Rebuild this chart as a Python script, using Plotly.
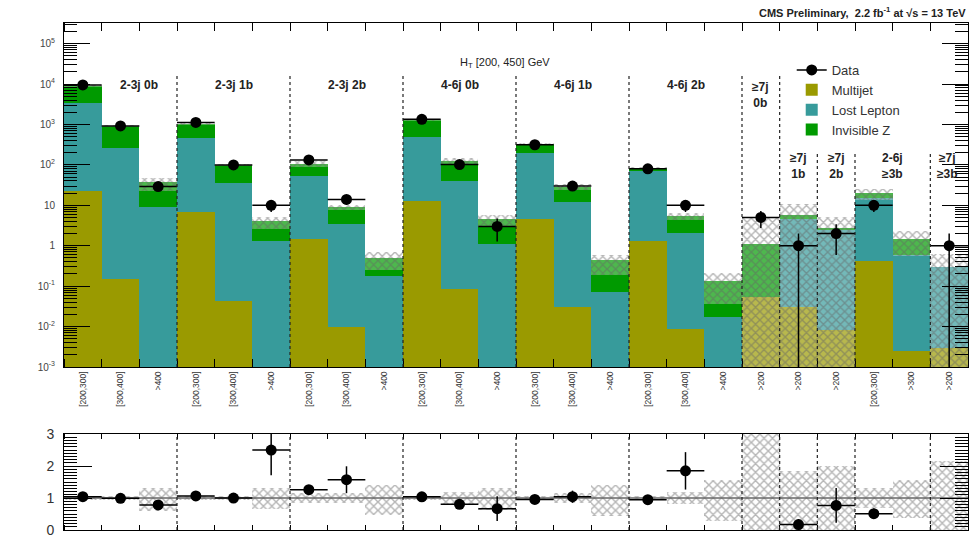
import numpy as np
import plotly.graph_objects as go

# ---------------- data ----------------
bin_labels = ["[200,300]", "[300,400]", ">400"] * 6 + [">200", ">200", ">200", "[200,300]", ">300", ">200"]
group_names = ["2-3j 0b", "2-3j 1b", "2-3j 2b", "4-6j 0b", "4-6j 1b", "4-6j 2b",
               "≥7j<br>0b", "≥7j<br>1b", "≥7j<br>2b", "2-6j<br>≥3b", "≥7j<br>≥3b"]
group_sizes = [3, 3, 3, 3, 3, 3, 1, 1, 1, 2, 1]

multijet = [23, 0.15, 0, 6.7, 0.044, 0, 1.5, 0.0095, 0, 13, 0.085, 0,
            4.6, 0.030, 0, 1.3, 0.0087, 0, 0.055, 0.03, 0.008, 0.41, 0.0025, 0.0029]
lost_lepton = [3300, 255, 9.3, 445, 35, 1.3, 52, 3.4, 0.18, 467, 41, 1.1,
               187, 11.8, 0.073, 71, 2.1, 0.017, 0, 4.6, 2.5, 14.6, 0.6, 0.29]
invisible_z = [5800, 675, 27.7, 600, 65, 2.7, 52, 5.5, 0.33, 810, 86, 3.4,
               138, 17, 0.36, 12, 3.3, 0.118, 1.05, 1.2, 0.1, 4.6, 0.87, 0.0]
data = [9500, 920, 29, 1120, 100, 10, 133, 14, None, 1340, 102, 3,
        315, 30, None, 80, 10, None, 5, 1, 2, 10, None, 1]
unc_up = [0.05, 0.05, 0.30, 0.06, 0.06, 0.30, 0.15, 0.15, 0.40, 0.06, 0.18, 0.30,
          0.06, 0.15, 0.40, 0.06, 0.20, 0.57, 3.5, 0.85, 1.0, 0.30, 0.55, 1.15]
unc_dn = [0.05, 0.05, 0.40, 0.06, 0.06, 0.35, 0.15, 0.15, 0.52, 0.06, 0.18, 0.36,
          0.06, 0.15, 0.57, 0.06, 0.20, 0.73, 1.0, 1.0, 1.0, 0.30, 0.62, 1.0]
y_tick_vals = [1e-3, 1e-2, 1e-1, 1, 10, 1e2, 1e3, 1e4, 1e5]
y_tick_text = ["10<sup>-3</sup>", "10<sup>-2</sup>", "10<sup>-1</sup>", "1", "10",
               "10<sup>2</sup>", "10<sup>3</sup>", "10<sup>4</sup>", "10<sup>5</sup>"]

# ---------------- styles ----------------
C_MJ = "#9a9a00"
C_LL = "#379b9b"
C_IZ = "#009a00"
HATCH = dict(shape="x", fgcolor="rgba(100,100,100,0.95)", bgcolor="rgba(255,255,255,0.3)",
             size=6, solidity=0.42, fillmode="overlay")
FONT = "Liberation Sans, Arial, sans-serif"

n = len(bin_labels)
xc = np.arange(n) + 0.5
mj = np.array(multijet, float)
ll = np.array(lost_lepton, float)
iz = np.array(invisible_z, float)
pred = mj + ll + iz
up = np.array(unc_up)
dn = np.array(unc_dn)
d = np.array([np.nan if v is None else v for v in data], float)
TINY = 1e-7

fig = go.Figure()

# stacked backgrounds (main panel)
fig.add_trace(go.Bar(x=xc, y=np.where(mj > 0, mj, np.nan), width=1, name="Multijet",
                     marker=dict(color=C_MJ, line=dict(width=0)), legendrank=2,
                     xaxis="x", yaxis="y"))
fig.add_trace(go.Bar(x=xc, y=np.where(ll > 0, ll, np.nan), base=np.maximum(mj, TINY), width=1,
                     name="Lost Lepton", marker=dict(color=C_LL, line=dict(width=0)),
                     legendrank=3, xaxis="x", yaxis="y"))
fig.add_trace(go.Bar(x=xc, y=np.where(iz > 0, iz, np.nan), base=np.maximum(mj + ll, TINY), width=1,
                     name="Invisible Z", marker=dict(color=C_IZ, line=dict(width=0)),
                     legendrank=4, xaxis="x", yaxis="y"))
# uncertainty band (main)
lo = np.maximum(pred * (1 - dn), TINY)
hi = pred * (1 + up)
fig.add_trace(go.Bar(x=xc, y=hi - lo, base=lo, width=1, showlegend=False,
                     marker=dict(color="rgba(0,0,0,0)", line=dict(width=0), pattern=HATCH),
                     xaxis="x", yaxis="y"))

# data (main)
err = np.sqrt(d)
err_lo = np.where(d - err > 0, err, d)
fig.add_trace(go.Scatter(x=xc, y=d, mode="markers", showlegend=False,
                         marker=dict(color="black", size=11),
                         error_x=dict(type="data", array=[0.5] * n, color="black", thickness=1.5, width=0),
                         error_y=dict(type="data", array=err, arrayminus=err_lo, color="black",
                                      thickness=1.5, width=0),
                         xaxis="x", yaxis="y"))
fig.add_trace(go.Scatter(x=[None], y=[None], mode="lines+markers", name="Data",
                         marker=dict(color="black", size=11), line=dict(color="black", width=1.5),
                         legendrank=1, xaxis="x", yaxis="y"))

# ratio panel
fig.add_trace(go.Bar(x=xc, y=up + dn, base=1 - dn, width=1, showlegend=False,
                     marker=dict(color="rgba(0,0,0,0)", line=dict(width=0), pattern=HATCH),
                     xaxis="x2", yaxis="y2"))
fig.add_trace(go.Scatter(x=[0, n], y=[1, 1], mode="lines", showlegend=False,
                         line=dict(color="#666", width=1.5), xaxis="x2", yaxis="y2"))
ratio = d / pred
in_range = ratio <= 3
fig.add_trace(go.Scatter(x=xc, y=np.where(in_range, ratio, np.nan), mode="markers", showlegend=False,
                         marker=dict(color="black", size=11),
                         error_x=dict(type="data", array=[0.5] * n, color="black", thickness=1.5, width=0),
                         error_y=dict(type="data", array=np.where(in_range, err / pred, np.nan),
                                      color="black", thickness=1.5, width=0),
                         xaxis="x2", yaxis="y2"))

# group separators and labels
bounds = np.cumsum(group_sizes)
starts = bounds - np.array(group_sizes)
sep_top = [4.2] * 7 + [2.33] * 3
for b, t in zip(bounds[:-1], sep_top):
    fig.add_shape(type="line", x0=b, x1=b, y0=1e-3, y1=10 ** t, xref="x", yref="y",
                  line=dict(color="#222", width=1.2, dash="dot"))
    fig.add_shape(type="line", x0=b, x1=b, y0=0, y1=3, xref="x2", yref="y2",
                  line=dict(color="#222", width=1.2, dash="dot"))

label_y = [3.98] * 6 + [3.74] + [1.98] * 4
label_dx = [0.5] + [0] * 9 + [-0.05]
for name, s, sz, ly, dx in zip(group_names, starts, group_sizes, label_y, label_dx):
    fig.add_annotation(x=s + sz / 2 + dx, y=ly, xref="x", yref="y", text="<b>%s</b>" % name,
                       showarrow=False, font=dict(size=12, color="#222", family=FONT))

fig.add_annotation(x=11.7, y=4.53, xref="x", yref="y", text="H<sub>T</sub> [200, 450] GeV",
                   showarrow=False, font=dict(size=11, color="#222", family=FONT))
fig.add_annotation(x=1, y=1, xref="paper", yref="paper", xanchor="right", yanchor="bottom",
                   yshift=2, text="<b>CMS Preliminary,  2.2 fb<sup>-1</sup> at √s = 13 TeV</b>",
                   showarrow=False, font=dict(size=11, color="#222", family=FONT))

axis_common = dict(showline=True, linecolor="black", linewidth=1, mirror="ticks", showgrid=False,
                   zeroline=False)

fig.update_layout(
    width=971, height=540,
    margin=dict(l=64, r=3, t=23, b=10),
    paper_bgcolor="white", plot_bgcolor="white",
    barmode="overlay", bargap=0,
    font=dict(family=FONT, color="#222"),
    xaxis=dict(domain=[0, 1], anchor="y", range=[0, n], tickmode="array", tickvals=list(xc),
               ticktext=bin_labels, tickangle=-90, ticks="", tickfont=dict(size=8.5, color="#333"),
               minor=dict(ticks="inside", ticklen=8, tick0=0, dtick=1, tickcolor="black", showgrid=False),
               **axis_common),
    yaxis=dict(domain=[0.3215, 1], anchor="x", type="log", range=[-3, 5.51], tickmode="array",
               tickvals=y_tick_vals, ticktext=y_tick_text, ticks="inside", ticklen=26,
               tickcolor="black", tickfont=dict(size=10, color="#444"), ticklabelstandoff=6,
               minor=dict(ticks="inside", ticklen=13, dtick="D1", tickcolor="black", showgrid=False),
               **axis_common),
    xaxis2=dict(domain=[0, 1], anchor="y2", range=[0, n], matches="x", showticklabels=False,
                tickmode="array", tickvals=list(xc), ticks="",
                minor=dict(ticks="inside", ticklen=5, tick0=0, dtick=1, tickcolor="black", showgrid=False),
                **axis_common),
    yaxis2=dict(domain=[0, 0.1893], anchor="x2", range=[0, 3], tickmode="array", tickvals=[0, 1, 2, 3],
                ticks="inside", ticklen=28, tickcolor="black", tickfont=dict(size=14, color="#333"),
                ticklabelstandoff=6,
                minor=dict(ticks="inside", ticklen=13, dtick=0.1, tickcolor="black", showgrid=False),
                **axis_common),
    legend=dict(x=0.805, y=0.937, xanchor="left", yanchor="top", bgcolor="rgba(0,0,0,0)",
                font=dict(size=13, color="#333", family=FONT), traceorder="normal",
                tracegroupgap=0, itemwidth=30),
)

fig.write_html("out.html")
